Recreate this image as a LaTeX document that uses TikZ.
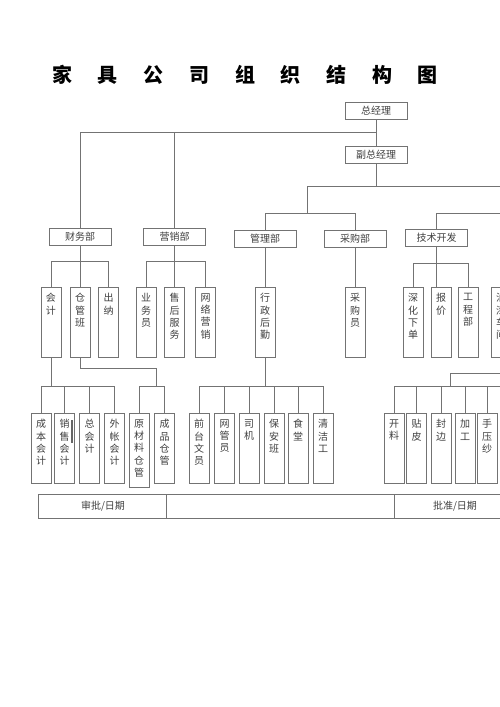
\documentclass[tikz,border=0pt]{standalone}
\usepackage{fontspec}
\setmainfont{Noto Sans CJK SC}
\newcommand{\vtxt}[2][70]{\parbox[c][#1pt][t]{20pt}{\centering\fontsize{10}{12.3}\selectfont\vspace*{6.5pt}#2}}
\newcommand{\tgap}{\hspace{25.75pt}}
\tikzset{
  conn/.style={draw=black!55, line width=0.9pt},
  hbox/.style={draw=black!55, line width=0.9pt, fill=white, minimum width=62pt, minimum height=17pt, inner sep=0pt, outer sep=0pt, text=black!75, font=\fontsize{10}{12}\selectfont},
  vbox/.style={draw=black!55, line width=0.9pt, fill=white, inner sep=0pt, outer sep=0pt, text=black!75},
  ttl/.style={font=\fontsize{20}{24}\selectfont\bfseries, text=black, inner sep=0pt},
  tbltext/.style={font=\fontsize{10}{12}\selectfont, text=black!75, inner sep=0pt}
}
\begin{document}
\begin{tikzpicture}[x=1pt,y=-1pt]
\useasboundingbox (0,0) rectangle (500,707);
\clip (0,0) rectangle (500,707);
\fill[white] (0,0) rectangle (500,707);

\node[ttl] (title) at (245,75) {家\tgap 具\tgap 公\tgap 司\tgap 组\tgap 织\tgap 结\tgap 构\tgap 图};

% top level
\node[hbox] (gm)  at (376,110.5) {总经理};
\node[hbox] (vgm) at (376,154.5) {副总经理};
\node[hbox] (cw)  at (80,237)    {财务部};
\node[hbox] (yx)  at (174.5,237) {营销部};
\node[hbox] (gl)  at (265,238.5) {管理部};
\node[hbox] (cg)  at (355,238.5) {采购部};
\node[hbox] (js)  at (436.5,237.5) {技术开发};

% first level of posts
\node[vbox] (kj)   at (51,322)    {\vtxt{会\\计}};
\node[vbox] (cgb)  at (80,322)    {\vtxt{仓\\管\\班}};
\node[vbox] (cn)   at (108.5,322) {\vtxt{出\\纳}};
\node[vbox] (ywy)  at (146,322)   {\vtxt{业\\务\\员}};
\node[vbox] (shfw) at (174.5,322) {\vtxt{售\\后\\服\\务}};
\node[vbox] (wlyx) at (205.5,322) {\vtxt{网\\络\\营\\销}};
\node[vbox] (xzhq) at (265,322)   {\vtxt{行\\政\\后\\勤}};
\node[vbox] (cgy)  at (355,322)   {\vtxt{采\\购\\员}};
\node[vbox] (shxd) at (413,322)   {\vtxt{深\\化\\下\\单}};
\node[vbox] (bj)   at (441,322)   {\vtxt{报\\价}};
\node[vbox] (gcb)  at (468,322)   {\vtxt{工\\程\\部}};
\node[vbox] (yq)   at (501,322)   {\vtxt{油\\漆\\车\\间}};

% second level of posts
\node[vbox] (cbkj) at (41,448)    {\vtxt{成\\本\\会\\计}};
\node[vbox] (xskj) at (64.5,448)  {\vtxt{销\\售\\会\\计}};
\node[vbox] (zkj)  at (89.5,448)  {\vtxt{总\\会\\计}};
\node[vbox] (wzkj) at (114.5,448) {\vtxt{外\\帐\\会\\计}};
\node[vbox] (ycl)  at (139,450)   {\vtxt[74]{原\\材\\料\\仓\\管}};
\node[vbox] (cpcg) at (164.5,448) {\vtxt{成\\品\\仓\\管}};
\node[vbox] (qtwy) at (199,448)   {\vtxt{前\\台\\文\\员}};
\node[vbox] (wgy)  at (224.5,448) {\vtxt{网\\管\\员}};
\node[vbox] (sj)   at (249,448)   {\vtxt{司\\机}};
\node[vbox] (bab)  at (274,448)   {\vtxt{保\\安\\班}};
\node[vbox] (st)   at (298,448)   {\vtxt{食\\堂}};
\node[vbox] (qjg)  at (323,448)   {\vtxt{清\\洁\\工}};
\node[vbox] (kl)   at (394,448)   {\vtxt{开\\料}};
\node[vbox] (tp)   at (416.5,448) {\vtxt{贴\\皮}};
\node[vbox] (fb)   at (441,448)   {\vtxt{封\\边}};
\node[vbox] (jg)   at (465,448)   {\vtxt{加\\工}};
\node[vbox] (syx)  at (487,448)   {\vtxt{手\\压\\纱}};

% small mark inside 销售会计
\draw[black!60, line width=1.2pt] (72,420) -- (72,443);

% connectors: top
\draw[conn] (gm) -- (vgm);
\draw[conn] (gm.south |- 0,132) -| (cw.north);
\draw[conn] (yx.north) -- (yx.north |- 0,132);
\coordinate (j1) at (307,186);
\coordinate (offA) at (510,186);
\coordinate (offB) at (510,213);
\draw[conn] (vgm.south) -- (vgm.south |- j1);
\draw[conn] (j1) -- (offA);
\draw[conn] (j1) -- (j1 |- 0,213);
\draw[conn] (gl.north) |- (cg.north |- 0,213) -- (cg.north);
\draw[conn] (js.north) |- (offB);

% connectors: departments to posts
\draw[conn] (cw.south) -- (cgb.north);
\draw[conn] (kj.north) |- (cn.north |- 0,261) -- (cn.north);
\draw[conn] (yx.south) -- (shfw.north);
\draw[conn] (ywy.north) |- (wlyx.north |- 0,261) -- (wlyx.north);
\draw[conn] (gl.south) -- (xzhq.north);
\draw[conn] (cg.south) -- (cgy.north);
\draw[conn] (js.south) -- (js.south |- bj.north);
\draw[conn] (shxd.north) |- (gcb.north |- 0,263) -- (gcb.north);

% connectors: second level
\draw[conn] (kj.south) -- (kj.south |- 0,386);
\draw[conn] (cbkj.north) |- (wzkj.north |- 0,386) -- (wzkj.north);
\foreach \n in {xskj,zkj} \draw[conn] (\n.north) -- (\n.north |- 0,386);
\coordinate (j2) at (156,368);
\draw[conn] (cgb.south) |- (j2) -- (j2 |- 0,386);
\draw[conn] (ycl.north) |- (cpcg.north |- 0,386) -- (cpcg.north);
\draw[conn] (xzhq.south) -- (xzhq.south |- 0,386);
\draw[conn] (qtwy.north) |- (qjg.north |- 0,386) -- (qjg.north);
\foreach \n in {wgy,sj,bab,st} \draw[conn] (\n.north) -- (\n.north |- 0,386);
\coordinate (j3) at (450,373);
\coordinate (offC) at (510,373);
\coordinate (offD) at (510,386);
\draw[conn] (offC) -- (j3) -- (j3 |- 0,386);
\draw[conn] (kl.north) |- (offD);
\foreach \n in {tp,fb,jg,syx} \draw[conn] (\n.north) -- (\n.north |- 0,386);

% sign-off table
\draw[conn] (38,494) rectangle (520,518);
\draw[conn] (166,494) -- (166,518);
\draw[conn] (394,494) -- (394,518);
\node[tbltext] (sp) at (103,506) {审批/日期};
\node[tbltext] (pz) at (455,506) {批准/日期};
\end{tikzpicture}
\end{document}
